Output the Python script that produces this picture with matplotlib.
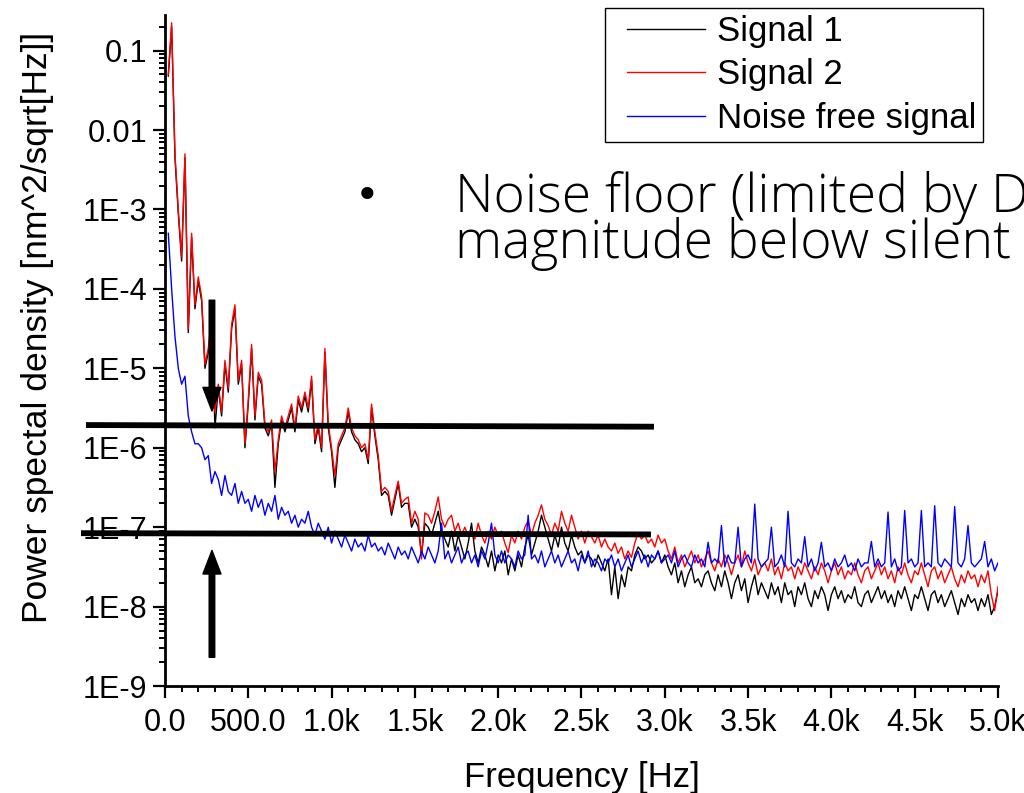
import numpy as np
import matplotlib
matplotlib.use("Agg")
import matplotlib.pyplot as plt
from matplotlib.lines import Line2D
from matplotlib.legend_handler import HandlerLine2D
from matplotlib.ticker import FixedLocator, FixedFormatter, MultipleLocator, LogLocator, NullFormatter

plt.rcParams['font.family'] = ['Liberation Sans', 'DejaVu Sans']

# frequency grid (Hz)
freq = np.arange(20, 5001, 20)

# log10 of PSD values, rows of 10 points = 200 Hz each
signal2_log = [
    -1.3, -0.65, -2.3, -3.0, -3.6, -2.3, -4.5, -3.3, -4.2, -3.85,
    -4.1, -4.95, -4.75, -4.35, -5.55, -5.2, -5.55, -4.9, -5.25, -4.45,
    -4.2, -5.15, -4.9, -5.95, -5.4, -4.7, -5.6, -5.05, -5.15, -5.7,
    -5.8, -5.65, -6.3, -5.9, -5.6, -5.75, -5.6, -5.45, -5.75, -5.35,
    -5.5, -5.3, -5.5, -5.1, -5.9, -5.7, -6.0, -4.75, -5.7, -6.0,
    -6.35, -5.95, -5.85, -5.75, -5.5, -5.75, -5.85, -5.9, -6.0, -5.95,
    -6.15, -5.45, -5.8, -6.1, -6.55, -6.5, -6.55, -6.8, -6.6, -6.42,
    -6.7, -6.65, -6.62, -6.95, -6.8, -6.9, -7.4, -6.82, -6.85, -6.95,
    -6.8, -6.62, -6.9, -7.0, -6.9, -6.85, -7.05, -6.95, -7.1, -7.0,
    -7.12, -7.05, -7.15, -6.95, -7.1, -7.2, -7.05, -7.15, -7.0, -7.1,
    -7.05, -7.2, -7.32, -7.1, -7.2, -7.05, -7.15, -7.0, -6.92, -7.1,
    -6.95, -6.85, -6.72, -6.9, -6.98, -7.1, -6.95, -7.05, -6.8, -6.95,
    -7.05, -6.85, -7.0, -7.15, -7.05, -7.2, -7.05, -7.12, -7.2, -7.1,
    -7.25, -7.15, -7.25, -7.3, -7.2, -7.33, -7.25, -7.4, -7.3, -7.38,
    -7.2, -7.07, -7.15, -7.1, -7.2, -7.15, -7.25, -7.1, -7.2, -7.15,
    -7.3, -7.4, -7.25, -7.45, -7.35, -7.5, -7.4, -7.3, -7.45, -7.35,
    -7.5, -7.4, -7.3, -7.45, -7.55, -7.4, -7.5, -7.35, -7.45, -7.6,
    -7.45, -7.35, -7.5, -7.3, -7.45, -7.55, -7.4, -7.6, -7.5, -7.45,
    -7.55, -7.4, -7.6, -7.5, -7.65, -7.45, -7.55, -7.5, -7.65, -7.5,
    -7.6, -7.45, -7.55, -7.65, -7.5, -7.6, -7.45, -7.55, -7.7, -7.55,
    -7.45, -7.6, -7.5, -7.65, -7.55, -7.6, -7.45, -7.6, -7.7, -7.55,
    -7.5, -7.65, -7.55, -7.45, -7.6, -7.5, -7.65, -7.55, -7.7, -7.5,
    -7.6, -7.45, -7.6, -7.7, -7.55, -7.6, -7.45, -7.6, -7.75, -7.55,
    -7.5, -7.65, -7.55, -7.7, -7.6, -7.5, -7.65, -7.75, -7.6, -7.7,
    -7.55, -7.65, -7.6, -7.75, -7.6, -7.7, -7.55, -7.85, -8.05, -7.75,
]

signal1_log = [
    -1.32, -0.7, -2.35, -3.05, -3.65, -2.35, -4.55, -3.35, -4.25, -3.9,
    -4.15, -5.0, -4.8, -4.4, -5.75, -5.25, -5.6, -4.95, -5.3, -4.5,
    -4.25, -5.2, -4.95, -6.0, -5.45, -4.75, -5.65, -5.1, -5.2, -5.75,
    -5.85, -5.7, -6.5, -5.95, -5.65, -5.8, -5.65, -5.5, -5.8, -5.4,
    -5.55, -5.35, -5.55, -5.15, -5.95, -5.75, -6.05, -4.8, -5.75, -6.05,
    -6.5, -6.0, -5.9, -5.8, -5.55, -5.8, -5.9, -5.95, -6.05, -6.0,
    -6.2, -5.5, -5.85, -6.15, -6.6, -6.55, -6.6, -6.85, -6.65, -6.45,
    -6.75, -6.7, -6.7, -7.0, -6.9, -7.0, -7.35, -6.95, -7.0, -7.1,
    -6.95, -6.8, -7.05, -7.15, -7.25, -7.05, -7.3, -7.1, -7.25, -7.4,
    -7.2, -6.95, -7.3, -7.45, -7.25, -7.35, -7.5, -7.3, -7.55, -7.35,
    -7.45, -7.3, -7.6, -7.4, -7.55, -7.35, -7.5, -7.25, -7.1, -7.35,
    -7.2, -7.05, -6.85, -7.0, -7.15, -7.3, -7.1, -7.25, -7.0, -7.2,
    -7.3, -7.1, -7.25, -7.35, -7.3, -7.45, -7.35, -7.4, -7.5, -7.35,
    -7.45, -7.55, -7.4, -7.85, -7.5, -7.9, -7.6, -7.75, -7.5, -7.55,
    -7.35, -7.25, -7.3, -7.4, -7.35, -7.45, -7.4, -7.3, -7.45, -7.35,
    -7.5, -7.6, -7.45, -7.7, -7.55, -7.75, -7.6, -7.5, -7.7, -7.65,
    -7.75, -7.6, -7.55, -7.7, -7.8, -7.6, -7.75, -7.55, -7.7, -7.9,
    -7.7, -7.6, -7.8, -7.65, -7.95, -7.75, -7.6, -7.85, -7.7, -7.8,
    -7.9, -7.7, -7.85, -7.75, -7.95, -7.7, -7.85, -7.8, -8.0, -7.75,
    -7.85, -7.7, -7.9, -8.0, -7.8, -7.9, -7.75, -7.85, -8.05, -7.85,
    -7.75, -7.9, -7.8, -7.95, -7.85, -7.9, -7.75, -7.95, -8.0, -7.85,
    -7.8, -7.95, -7.85, -7.75, -7.9, -7.8, -7.95, -7.85, -8.0, -7.8,
    -7.9, -7.75, -7.9, -8.05, -7.85, -7.9, -7.75, -7.9, -8.05, -7.85,
    -7.8, -7.95, -7.85, -8.0, -7.9, -7.8, -7.95, -8.1, -7.9, -8.0,
    -7.85, -7.95, -7.9, -8.05, -7.9, -8.0, -7.85, -8.1, -8.0, -7.8,
]

noise_free_log = [
    -3.3, -4.0, -4.6, -5.0, -5.2, -5.1, -5.6, -5.8, -5.95, -5.95,
    -6.0, -6.15, -6.1, -6.45, -6.3, -6.4, -6.6, -6.35, -6.55, -6.6,
    -6.45, -6.7, -6.55, -6.7, -6.65, -6.8, -6.6, -6.75, -6.65, -6.85,
    -6.7, -6.8, -6.6, -6.9, -6.75, -6.85, -6.8, -6.95, -6.85, -7.0,
    -6.9, -6.95, -6.8, -7.0, -7.1, -6.95, -7.05, -7.15, -7.0, -7.2,
    -7.05, -7.15, -7.25, -7.1, -7.2, -7.3, -7.15, -7.25, -7.2, -7.3,
    -7.1, -7.25, -7.2, -7.3, -7.25, -7.35, -7.2, -7.3, -7.4, -7.25,
    -7.35, -7.3, -7.4, -7.25, -7.35, -7.45, -7.3, -7.4, -7.25, -7.35,
    -7.45, -7.3, -6.95, -7.4, -7.3, -7.45, -7.35, -7.25, -7.45, -7.35,
    -7.3, -7.45, -7.35, -7.5, -7.3, -7.4, -7.2, -6.95, -7.35, -7.45,
    -7.3, -7.45, -7.35, -7.4, -7.5, -7.3, -7.4, -7.35, -6.85, -7.4,
    -7.35, -7.45, -7.3, -7.5, -7.4, -7.3, -7.45, -7.35, -7.5, -7.4,
    -7.3, -7.45, -7.4, -7.55, -7.35, -7.45, -7.3, -7.5, -7.4, -7.45,
    -7.55, -7.4, -7.45, -7.35, -7.5, -7.4, -7.55, -7.45, -7.35, -7.5,
    -7.4, -7.3, -7.45, -7.35, -7.5, -7.35, -7.4, -7.3, -7.45, -7.4,
    -7.35, -7.45, -7.3, -7.5, -7.4, -7.35, -7.45, -7.5, -7.35, -7.45,
    -7.4, -7.5, -7.19, -7.45, -7.4, -7.45, -6.98, -7.5, -7.35, -7.45,
    -7.45, -7.0, -7.5, -7.4, -7.35, -7.45, -6.71, -7.4, -7.5, -7.45,
    -7.4, -7.0, -7.5, -7.45, -7.35, -7.5, -6.8, -7.45, -7.5, -7.4,
    -7.45, -7.12, -7.5, -7.4, -7.55, -7.45, -7.19, -7.5, -7.45, -7.55,
    -7.4, -7.5, -7.45, -7.35, -7.5, -7.45, -7.55, -7.4, -7.5, -7.45,
    -7.45, -7.18, -7.5, -7.4, -7.5, -7.45, -6.81, -7.5, -7.4, -7.55,
    -7.5, -6.79, -7.45, -7.4, -7.5, -7.45, -6.79, -7.5, -7.45, -7.5,
    -6.73, -7.45, -7.5, -7.4, -7.45, -7.5, -6.74, -7.45, -7.5, -7.4,
    -6.98, -7.45, -7.5, -7.45, -7.4, -7.18, -7.5, -7.4, -7.55, -7.45,
]

labels = ["Signal 1", "Signal 2", "Noise free signal"]
colors = ["black", "#ff0000", "#0000ff"]

y_ticks = [1e-9, 1e-8, 1e-7, 1e-6, 1e-5, 1e-4, 1e-3, 1e-2, 1e-1]
y_ticklabels = ["1E-9", "1E-8", "1E-7", "1E-6", "1E-5", "1E-4", "1E-3", "0.01", "0.1"]
x_ticks = [0, 500, 1000, 1500, 2000, 2500, 3000, 3500, 4000, 4500, 5000]
x_ticklabels = ["0.0", "500.0", "1.0k", "1.5k", "2.0k", "2.5k", "3.0k", "3.5k", "4.0k", "4.5k", "5.0k"]

# annotation values (Hz, PSD)
floor_lines = [((-474, 2935), (1.93e-6, 1.84e-6)), ((-504, 2917), (8.4e-8, 8.1e-8))]
arrow_down = ((282, 7.2e-5), (282, 2.9e-6))
arrow_up = ((282, 2.3e-9), (282, 5.1e-8))

fig = plt.figure(figsize=(10.24, 7.93), dpi=100)
ax = fig.add_axes([0.1611, 0.1349, 0.8135, 0.8461])

series = [signal1_log, signal2_log, noise_free_log]
for vals, lab, col in zip(series, labels, colors):
    ax.plot(freq, 10.0 ** np.array(vals), color=col, lw=1.0, label=lab)

ax.set_yscale('log')
ax.set_xlim(0, 5000)
ax.set_ylim(1e-9, 0.28)

ax.yaxis.set_major_locator(FixedLocator(y_ticks))
ax.yaxis.set_major_formatter(FixedFormatter(y_ticklabels))
ax.yaxis.set_minor_locator(LogLocator(base=10, subs=np.arange(2, 10), numticks=20))
ax.yaxis.set_minor_formatter(NullFormatter())
ax.xaxis.set_major_locator(FixedLocator(x_ticks))
ax.xaxis.set_major_formatter(FixedFormatter(x_ticklabels))
ax.xaxis.set_minor_locator(MultipleLocator(100))

for s in ['top', 'right']:
    ax.spines[s].set_visible(False)
for s in ['left', 'bottom']:
    ax.spines[s].set_linewidth(2.0)
ax.tick_params(which='major', direction='out', length=8.5, width=1.6, labelsize=22, pad=4)
ax.tick_params(axis='x', which='major', pad=7)
ax.tick_params(which='minor', direction='out', length=4.5, width=1.4)

ax.set_xlabel("Frequency [Hz]", fontsize=25, labelpad=17)
ax.set_ylabel("Power spectal density [nm^2/sqrt[Hz]]", fontsize=25.5)
ax.yaxis.set_label_coords(-0.133, 0.534)

# noise floor lines and arrows
for xs, ys in floor_lines:
    ax.plot(xs, ys, color='black', lw=4.2, clip_on=False, solid_capstyle='butt', zorder=5)
for tail, tip in (arrow_down, arrow_up):
    ax.annotate('', xy=tip, xytext=tail, annotation_clip=False,
                arrowprops=dict(facecolor='black', edgecolor='black', width=4.0,
                                headwidth=13, headlength=17, shrink=0))

leg = fig.legend(loc='upper right', bbox_to_anchor=(0.96, 0.99), fontsize=25,
                 frameon=True, fancybox=False, edgecolor='black', framealpha=1,
                 handlelength=2.68, handletextpad=0.35, labelspacing=0.3,
                 borderpad=0.2, borderaxespad=0,
                 handler_map={Line2D: HandlerLine2D(xpad=0.46)})
leg.get_frame().set_linewidth(1.0)

fig.text(367 / 1024, 1 - 197 / 793, "\u2022", fontsize=30, ha='center', va='center',
         family=['DejaVu Sans'])
fig.text(455 / 1024, 1 - 258 / 793, "Noise floor (limited by D\nmagnitude below silent",
         fontsize=38.5, linespacing=0.81, family=['Open Sans', 'DejaVu Sans'],
         fontweight='light', ha='left', va='baseline', multialignment='left')

fig.savefig("out.png", dpi=100)
